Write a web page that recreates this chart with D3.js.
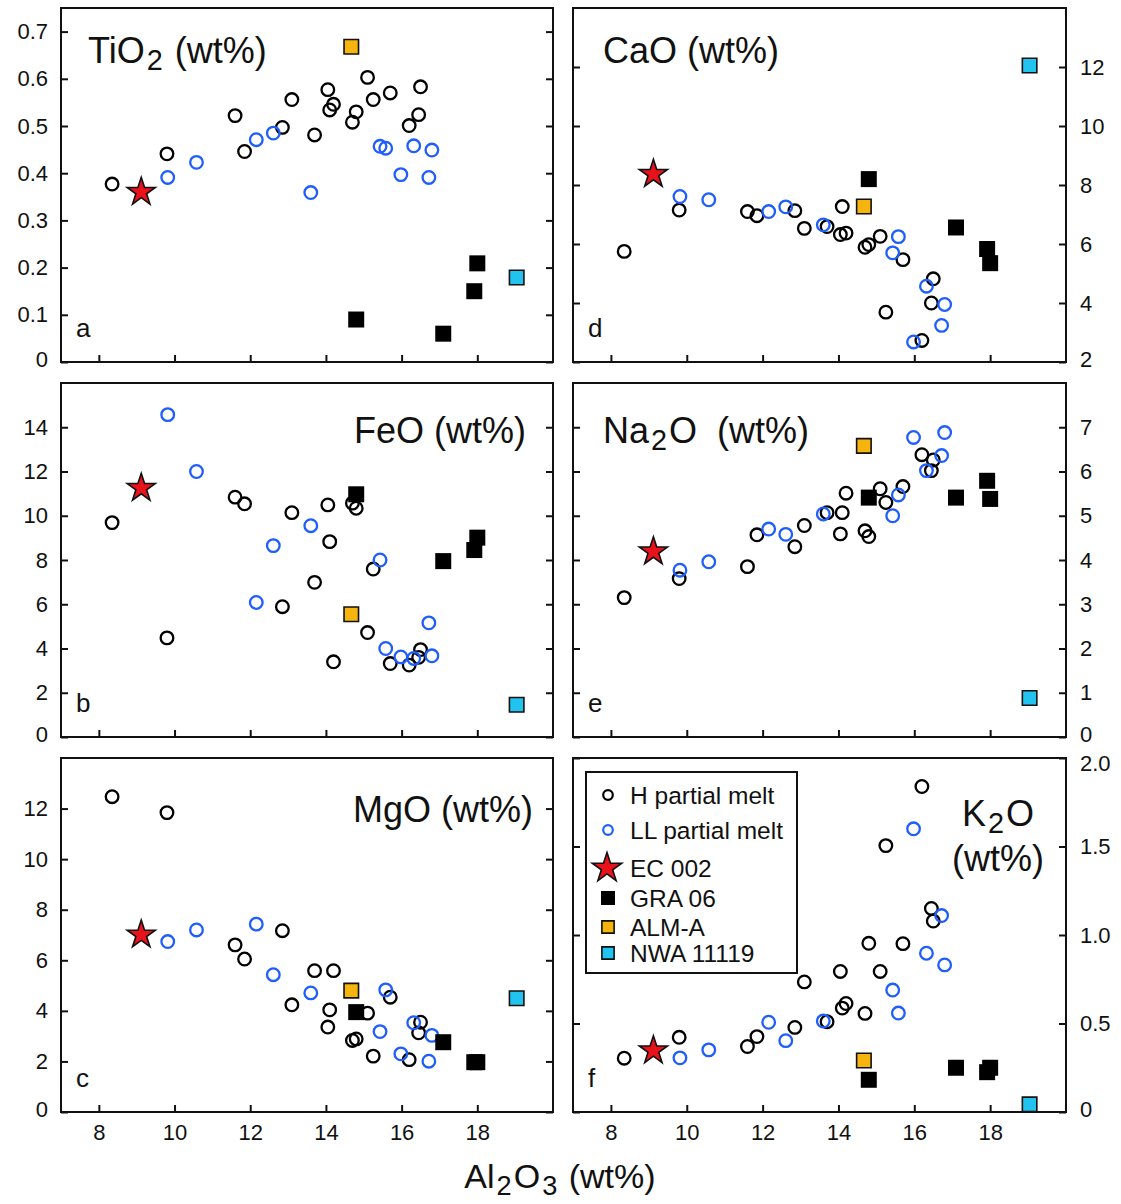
<!DOCTYPE html>
<html>
<head>
<meta charset="utf-8">
<script src="https://cdn.jsdelivr.net/npm/d3@7"></script>
<style>
  body { margin: 0; background: #fff; }
  text { font-family: "Liberation Sans", Arial, sans-serif; fill: #111; }
</style>
</head>
<body>
<svg id="chart" width="1121" height="1204"></svg>
<script>
// Al2O3 (wt%) of each sample, shared by every panel
const hAl2O3 = [8.35, 9.8, 11.6, 11.85, 12.85, 13.1, 13.7, 14.05, 14.1, 14.2, 14.7, 14.8, 15.1, 15.25, 15.7, 16.2, 16.45, 16.5]
const llAl2O3 = [9.82, 10.58, 12.16, 12.61, 13.6, 15.43, 15.58, 15.98, 16.32, 16.72, 16.8]
const ecAl2O3 = [9.12]
const graAl2O3 = [14.8, 17.1, 17.92, 18.0]
const almAl2O3 = [14.67]
const nwaAl2O3 = [19.04]

// H partial melt
const hMelt = {
  TiO2: [0.377, 0.441, 0.522, 0.446, 0.497, 0.556, 0.481, 0.577, 0.534, 0.546, 0.508, 0.530, 0.603, 0.556, 0.570, 0.501, 0.524, 0.583],
  FeO:  [9.69, 4.48, 10.84, 10.54, 5.89, 10.14, 6.99, 10.49, 8.83, 3.40, 10.57, 10.34, 4.72, 7.59, 3.32, 3.25, 3.6, 3.95],
  MgO:  [12.47, 11.84, 6.61, 6.05, 7.17, 4.24, 5.59, 3.36, 4.04, 5.59, 2.83, 2.89, 3.91, 2.21, 4.54, 2.07, 3.13, 3.55],
  CaO:  [5.75, 7.15, 7.10, 6.96, 7.13, 6.53, 6.59, 6.32, 7.27, 6.37, 5.89, 5.98, 6.26, 3.69, 5.47, 2.73, 4.0, 4.82],
  Na2O: [3.15, 3.58, 3.85, 4.57, 4.30, 4.78, 5.07, 4.59, 5.07, 5.51, 4.66, 4.53, 5.61, 5.30, 5.66, 6.38, 6.02, 6.26],
  K2O:  [0.304, 0.422, 0.370, 0.426, 0.478, 0.735, 0.510, 0.794, 0.587, 0.613, 0.557, 0.953, 0.794, 1.505, 0.951, 1.839, 1.150, 1.079]
}
// LL partial melt
const llMelt = {
  TiO2: [0.391, 0.423, 0.471, 0.485, 0.359, 0.457, 0.453, 0.397, 0.458, 0.391, 0.449],
  FeO:  [14.57, 12.0, 6.08, 8.65, 9.55, 8.0, 4.0, 3.62, 3.55, 5.16, 3.67],
  MgO:  [6.74, 7.2, 7.43, 5.43, 4.71, 3.18, 4.83, 2.30, 3.53, 2.01, 3.03],
  CaO:  [7.61, 7.50, 7.10, 7.26, 6.65, 5.70, 6.25, 2.68, 4.57, 3.24, 3.95],
  Na2O: [3.77, 3.96, 4.70, 4.58, 5.04, 5.0, 5.47, 6.77, 6.02, 6.36, 6.88],
  K2O:  [0.306, 0.351, 0.507, 0.403, 0.514, 0.689, 0.559, 1.60, 0.897, 1.11, 0.831]
}
const ec002 = { TiO2: [0.36], FeO: [11.25], MgO: [7.01], CaO: [8.37], Na2O: [4.19], K2O: [0.347] }
const gra06 = {
  TiO2: [0.09, 0.06, 0.15, 0.209],
  FeO:  [10.97, 7.95, 8.45, 9.01],
  MgO:  [3.95, 2.76, 1.97, 1.97],
  CaO:  [8.2, 6.56, 5.83, 5.35],
  Na2O: [5.41, 5.41, 5.79, 5.38],
  K2O:  [0.182, 0.25, 0.225, 0.25]
}
const almA = { TiO2: [0.668], FeO: [5.55], MgO: [4.80], CaO: [7.27], Na2O: [6.58], K2O: [0.291] }
const nwa11119 = { TiO2: [0.179], FeO: [1.46], MgO: [4.5], CaO: [12.05], Na2O: [0.88], K2O: [0.043] }

// axis ticks
const xTicks = [8, 10, 12, 14, 16, 18]
const yTicks = {
  TiO2: [0, 0.1, 0.2, 0.3, 0.4, 0.5, 0.6, 0.7],
  FeO:  [0, 2, 4, 6, 8, 10, 12, 14],
  MgO:  [0, 2, 4, 6, 8, 10, 12],
  CaO:  [2, 4, 6, 8, 10, 12],
  Na2O: [0, 1, 2, 3, 4, 5, 6, 7],
  K2O:  [0, 0.5, 1.0, 1.5, 2.0]
}
const yDomains = { TiO2: [0, 0.75], FeO: [0, 16], MgO: [0, 14], CaO: [2, 14], Na2O: [0, 8], K2O: [0, 2.0] }
// oxides whose labels carry one decimal
const decimalAxes = ["TiO2", "K2O"]

const series = [
  { name: "H partial melt", xs: hAl2O3, ys: hMelt, shape: "circle", stroke: "#000" },
  { name: "LL partial melt", xs: llAl2O3, ys: llMelt, shape: "circle", stroke: "#1f5efc" },
  { name: "GRA 06", xs: graAl2O3, ys: gra06, shape: "square", fill: "#000" },
  { name: "ALM-A", xs: almAl2O3, ys: almA, shape: "square", fill: "#f6b40e" },
  { name: "NWA 11119", xs: nwaAl2O3, ys: nwa11119, shape: "square", fill: "#22c3ee" },
  { name: "EC 002", xs: ecAl2O3, ys: ec002, shape: "star", fill: "#e8121b" }
]
const legendOrder = ["H partial melt", "LL partial melt", "EC 002", "GRA 06", "ALM-A", "NWA 11119"]

const svg = d3.select("#chart")
const colX = [[61, 553], [573, 1066]]
const rowY = [8, 383, 758]
const panelH = 354

const panels = [
  { ox: "TiO2", letter: "a", col: 0, row: 0, title: [["TiO", 0], ["2", 1], [" (wt%)", 0]], tx: 88, ty: 63, anchor: "start" },
  { ox: "FeO", letter: "b", col: 0, row: 1, title: [["FeO (wt%)", 0]], tx: 526, ty: 443, anchor: "end" },
  { ox: "MgO", letter: "c", col: 0, row: 2, title: [["MgO (wt%)", 0]], tx: 533, ty: 822, anchor: "end" },
  { ox: "CaO", letter: "d", col: 1, row: 0, title: [["CaO (wt%)", 0]], tx: 603, ty: 63, anchor: "start" },
  { ox: "Na2O", letter: "e", col: 1, row: 1, title: [["Na", 0], ["2", 1], ["O  (wt%)", 0]], tx: 603, ty: 443, anchor: "start" },
  { ox: "K2O", letter: "f", col: 1, row: 2, title: [["K", 0], ["2", 1], ["O", 0]], tx: 998, ty: 826, anchor: "middle" }
]

// text with subscripts: parts = [[text, isSub], ...]
function formula(g, x, y, parts, size, anchor) {
  const t = g.append("text").attr("x", x).attr("y", y)
    .attr("text-anchor", anchor).style("font-size", size + "px").style("white-space", "pre")
  let shifted = false
  parts.forEach(p => {
    const s = t.append("tspan").text(p[0])
    if (p[1] && !shifted) { s.attr("dy", size * 0.2).attr("dx", 2).style("font-size", (size * 0.8) + "px"); shifted = true }
    else if (!p[1] && shifted) { s.attr("dy", -size * 0.2).attr("dx", 2); shifted = false }
  })
  return t
}

function shapePath(shape, size) {
  if (shape === "star") return d3.symbol(d3.symbolStar).size(size || 245)()
  return d3.symbol(d3.symbolSquare).size(size || 240)()
}

panels.forEach(p => {
  const [x0, x1] = colX[p.col]
  const y0 = rowY[p.row], y1 = y0 + panelH
  const x = d3.scaleLinear().domain([7, 20]).range([x0, x1])
  const y = d3.scaleLinear().domain(yDomains[p.ox]).range([y1, y0])
  const fmtY = d => d === 0 ? "0" : (decimalAxes.includes(p.ox) ? d.toFixed(1) : String(d))
  const g = svg.append("g")

  // ticks (all inward)
  const left = g.append("g").attr("transform", `translate(${x0},0)`)
    .call(d3.axisLeft(y).tickValues(yTicks[p.ox]).tickSizeInner(-7).tickSizeOuter(0).tickPadding(13)
      .tickFormat(p.col === 0 ? fmtY : ""))
  const right = g.append("g").attr("transform", `translate(${x1},0)`)
    .call(d3.axisRight(y).tickValues(yTicks[p.ox]).tickSizeInner(-7).tickSizeOuter(0).tickPadding(14)
      .tickFormat(p.col === 1 ? fmtY : ""))
  const bottom = g.append("g").attr("transform", `translate(0,${y1})`)
    .call(d3.axisBottom(x).tickValues(xTicks).tickSizeInner(-7).tickSizeOuter(0).tickPadding(12)
      .tickFormat(p.row === 2 ? d3.format("d") : ""))
  ;[left, right, bottom].forEach(a => {
    a.select(".domain").remove()
    a.selectAll("line").attr("stroke", "#111").attr("stroke-width", 2)
    a.selectAll("text").style("font-size", "22px").style("font-family", "Liberation Sans, Arial, sans-serif").attr("fill", "#111")
  })
  // labels sitting on the frame corners are nudged inward a little, as in the original
  ;[left, right].forEach(a => {
    a.selectAll(".tick text").attr("y", d => {
      const py = y(d)
      if (Math.abs(py - y1) < 1) return -3
      if (Math.abs(py - y0) < 1) return 5
      return 0
    })
  })

  g.append("rect").attr("x", x0).attr("y", y0).attr("width", x1 - x0).attr("height", panelH)
    .attr("fill", "none").attr("stroke", "#111").attr("stroke-width", 2)

  // data
  series.forEach(s => {
    const pts = s.xs.map((v, i) => [v, s.ys[p.ox][i]])
    if (s.shape === "circle") {
      g.selectAll(null).data(pts).join("circle")
        .attr("cx", d => x(d[0])).attr("cy", d => y(d[1])).attr("r", 6.3)
        .attr("fill", "none").attr("stroke", s.stroke).attr("stroke-width", 2.3)
    } else {
      g.selectAll(null).data(pts).join("path")
        .attr("d", shapePath(s.shape, s.fill === "#000" ? 256 : (s.shape === "star" ? 245 : 210)))
        .attr("transform", d => `translate(${x(d[0])},${y(d[1])})`)
        .attr("fill", s.fill).attr("stroke", "#111").attr("stroke-width", s.fill === "#000" ? 0 : 1.6)
    }
  })

  formula(g, p.tx, p.ty, p.title, 36, p.anchor)
  if (p.ox === "K2O") g.append("text").attr("x", p.tx).attr("y", p.ty + 45).attr("text-anchor", "middle").style("font-size", "36px").text("(wt%)")
  g.append("text").attr("x", x0 + 15).attr("y", y1 - 25).style("font-size", "26px").text(p.letter)
})

// legend inside panel f
const lg = svg.append("g")
lg.append("rect").attr("x", 586).attr("y", 772).attr("width", 211).attr("height", 201)
  .attr("fill", "#fff").attr("stroke", "#111").attr("stroke-width", 2)
const legendY = [795, 830, 868, 898, 927, 953]
legendOrder.forEach((name, i) => {
  const s = series.find(d => d.name === name)
  const cy = legendY[i]
  if (s.shape === "circle") {
    lg.append("circle").attr("cx", 608).attr("cy", cy).attr("r", 4.8)
      .attr("fill", "none").attr("stroke", s.stroke).attr("stroke-width", 2.2)
  } else {
    lg.append("path").attr("d", shapePath(s.shape, s.shape === "star" ? 270 : (s.fill === "#000" ? 196 : 150)))
      .attr("transform", `translate(${s.shape === "star" ? 607 : 608},${cy})`)
      .attr("fill", s.fill).attr("stroke", "#111").attr("stroke-width", s.fill === "#000" ? 0 : 1.6)
  }
  lg.append("text").attr("x", 630).attr("y", cy + 8.5).style("font-size", "24.5px").text(name)
})

// shared x title
formula(svg, 560, 1188, [["Al", 0], ["2", 1], ["O", 0], ["3", 1], [" (wt%)", 0]], 34, "middle")
</script>
</body>
</html>
